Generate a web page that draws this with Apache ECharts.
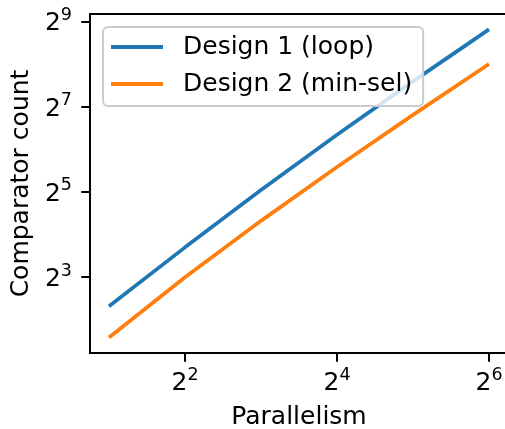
<!DOCTYPE html>
<html>
<head>
<meta charset="utf-8">
<script src="https://cdn.jsdelivr.net/npm/echarts@6/dist/echarts.min.js"></script>
<style>
html,body{margin:0;padding:0;background:#fff;overflow:hidden;}
#chart{width:505px;height:429px;}
</style>
</head>
<body>
<div id="chart"></div>
<script>
// Data
const parallelism = [2, 4, 8, 16, 32, 64];
const design1Loop = [5, 13, 33, 81, 193, 449];
const design2MinSel = [3, 8, 20, 48, 112, 256];
const seriesNames = ['Design 1 (loop)', 'Design 2 (min-sel)'];
// Tick labels (exponents of 2)
const xTickExps = [2, 4, 6];
const yTickExps = [3, 5, 7, 9];

const FONT = 'DejaVu Sans';

// matplotlib-like 5% margins in log2 space
function logRange(vals) {
  const lo = Math.log2(Math.min(...vals));
  const hi = Math.log2(Math.max(...vals));
  const m = (hi - lo) * 0.05;
  return [lo - m, hi + m];
}
const xr = logRange(parallelism);
const yr = logRange(design1Loop.concat(design2MinSel));

function pairs(xs, ys) { return xs.map((x, i) => [x, ys[i]]); }

const rich = {
  b: { fontSize: 25, fontFamily: FONT, color: '#000', lineHeight: 30, verticalAlign: 'bottom' },
  s: { fontSize: 17.5, fontFamily: FONT, color: '#000', lineHeight: 14, verticalAlign: 'top' }
};
const fmt = v => '{b|2}{s|' + Math.round(v) + '}';
const spine = { show: true, onZero: false, lineStyle: { color: '#000', width: 2 } };

const chart = echarts.init(document.getElementById('chart'), null, { renderer: 'canvas' });
chart.setOption({
  animation: false,
  backgroundColor: '#fff',
  grid: {
    left: 90, top: 14, width: 418, height: 339,
    containLabel: false, outerBoundsMode: 'none',
    show: false
  },
  legend: {
    orient: 'vertical',
    left: 103, top: 27,
    data: seriesNames,
    icon: 'rect',
    itemWidth: 52, itemHeight: 4,
    itemGap: 7,
    padding: [5, 11, 7, 8],
    backgroundColor: 'rgba(255,255,255,0.8)',
    borderColor: '#cccccc', borderWidth: 2, borderRadius: 5,
    textStyle: { fontSize: 25, fontFamily: FONT, color: '#000', lineHeight: 30, padding: [0, 0, 0, 15] }
  },
  xAxis: [
    {
      type: 'log', logBase: 2, position: 'top',
      min: Math.pow(2, xr[0]), max: Math.pow(2, xr[1]),
      axisLine: spine, axisTick: { show: false },
      axisLabel: { show: false }, splitLine: { show: false }
    },
    {
      type: 'value', position: 'bottom',
      min: xr[0], max: xr[1],
      axisLine: spine,
      splitLine: { show: false },
      axisTick: { show: true, length: 8.75, customValues: xTickExps, lineStyle: { color: '#000', width: 2 } },
      axisLabel: { show: true, margin: 13, customValues: xTickExps, formatter: fmt, rich: rich },
      name: 'Parallelism', nameLocation: 'middle', nameGap: 52,
      nameTextStyle: { fontSize: 25, fontFamily: FONT, color: '#000' }
    }
  ],
  yAxis: [
    {
      type: 'log', logBase: 2, position: 'left',
      min: Math.pow(2, yr[0]), max: Math.pow(2, yr[1]),
      axisLine: { show: false }, axisTick: { show: false },
      axisLabel: { show: false }, splitLine: { show: false }
    },
    {
      type: 'value', position: 'left',
      min: yr[0], max: yr[1],
      axisLine: spine,
      splitLine: { show: false },
      axisTick: { show: true, length: 8.75, customValues: yTickExps, lineStyle: { color: '#000', width: 2 } },
      axisLabel: { show: true, margin: 18, customValues: yTickExps, formatter: fmt, rich: rich },
      name: 'Comparator count', nameLocation: 'middle', nameGap: 53, nameRotate: 90,
      nameTextStyle: { fontSize: 25, fontFamily: FONT, color: '#000' }
    }
  ],
  series: [
    {
      name: seriesNames[0], type: 'line', xAxisIndex: 0, yAxisIndex: 0,
      data: pairs(parallelism, design1Loop),
      showSymbol: false, symbol: 'none',
      color: '#1f77b4',
      lineStyle: { width: 3.75, color: '#1f77b4' }
    },
    {
      name: seriesNames[1], type: 'line', xAxisIndex: 0, yAxisIndex: 0,
      data: pairs(parallelism, design2MinSel),
      showSymbol: false, symbol: 'none',
      color: '#ff7f0e',
      lineStyle: { width: 3.75, color: '#ff7f0e' }
    }
  ]
});
</script>
</body>
</html>
